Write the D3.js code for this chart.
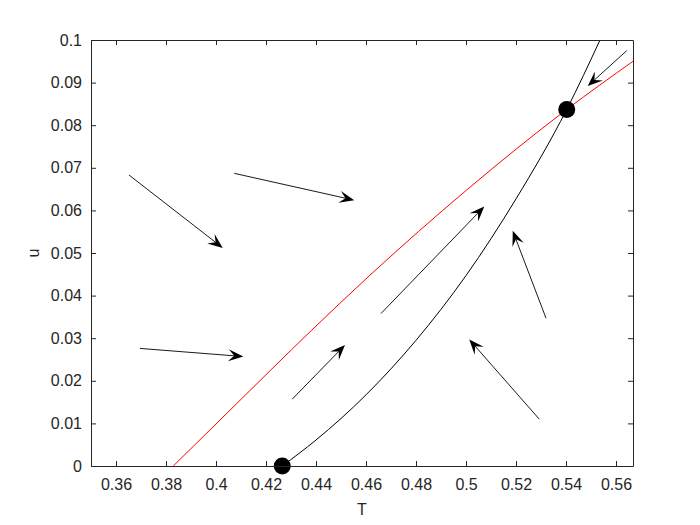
<!DOCTYPE html>
<html>
<head>
<meta charset="utf-8">
<script src="https://cdn.jsdelivr.net/npm/d3@7"></script>
<style>
  body { margin: 0; background: #fff; }
  svg text { font-family: "Liberation Sans", Arial, sans-serif; }
</style>
</head>
<body>
<div id="chart"></div>
<script>

// red curve (T, u)
const redT = [0.3829, 0.4056, 0.4383, 0.4616, 0.5003, 0.5403, 0.5668];
const redU = [0, 0.0131, 0.0319, 0.0448, 0.0648, 0.0837, 0.0950];

// black curve (T, u)
const blackT = [0.4265, 0.44, 0.46, 0.48, 0.50, 0.52, 0.5403, 0.5536];
const blackU = [0, 0.0061, 0.0167, 0.0295, 0.0447, 0.0627, 0.0837, 0.1];

// equilibrium points
const eqT = [0.4265, 0.5403];
const eqU = [0, 0.0837];

// arrows: start (T0,u0) -> tip (T1,u1)
const arrowT0 = [0.3652, 0.4073, 0.3696, 0.4305, 0.4660, 0.5293, 0.5320, 0.5643];
const arrowU0 = [0.0683, 0.0687, 0.0276, 0.0157, 0.0358, 0.0110, 0.0347, 0.0975];
const arrowT1 = [0.4027, 0.4553, 0.4109, 0.4516, 0.5073, 0.5013, 0.5187, 0.5487];
const arrowU1 = [0.0512, 0.0624, 0.0257, 0.0284, 0.0609, 0.0297, 0.0552, 0.0892];

const xTicks = [0.36, 0.38, 0.4, 0.42, 0.44, 0.46, 0.48, 0.5, 0.52, 0.54, 0.56];
const yTicks = [0, 0.01, 0.02, 0.03, 0.04, 0.05, 0.06, 0.07, 0.08, 0.09, 0.1];
const xLabel = 'T';
const yLabel = 'u';

let outerWidth = 700;
let outerHeight = 525;
let margin = {'top': 40, 'left': 91, 'right': 67, 'bottom': 59};
let width = outerWidth - margin.left - margin.right;
let height = outerHeight - margin.top - margin.bottom;
const axisColor = '#262626';

let svg = d3.select('#chart')
            .append('svg')
            .attr('width', outerWidth)
            .attr('height', outerHeight);

let g = svg.append('g')
           .attr('transform', `translate(${margin.left}, ${margin.top})`);

let x = d3.scaleLinear().domain([0.35, 0.5668]).range([0, width]);
let y = d3.scaleLinear().domain([0, 0.1]).range([height, 0]);

let line = d3.line()
             .x(d => x(d[0]))
             .y(d => y(d[1]))
             .curve(d3.curveMonotoneX);

// clip so curves stop at the box
g.append('clipPath').attr('id', 'clip')
  .append('rect').attr('width', width).attr('height', height);

let plot = g.append('g').attr('clip-path', 'url(#clip)');

plot.append('path')
    .datum(d3.zip(redT, redU))
    .attr('d', line)
    .attr('fill', 'none')
    .attr('stroke', '#ff0000')
    .attr('stroke-width', 1);

plot.append('path')
    .datum(d3.zip(blackT, blackU))
    .attr('d', line)
    .attr('fill', 'none')
    .attr('stroke', '#000')
    .attr('stroke-width', 1);

// arrows with swept-back heads
let headLen = 15, headHalf = 6, notch = 0.6;
d3.range(arrowT0.length).forEach(function(i){
    let x0 = x(arrowT0[i]), y0 = y(arrowU0[i]);
    let x1 = x(arrowT1[i]), y1 = y(arrowU1[i]);
    let len = Math.hypot(x1 - x0, y1 - y0);
    let dx = (x1 - x0) / len, dy = (y1 - y0) / len;
    let nx = -dy, ny = dx;
    let bx = x1 - headLen * dx, by = y1 - headLen * dy;
    let mx = x1 - notch * headLen * dx, my = y1 - notch * headLen * dy;

    g.append('line')
        .attr('x1', x0).attr('y1', y0)
        .attr('x2', mx).attr('y2', my)
        .attr('stroke', '#000')
        .attr('stroke-width', 0.9);

    g.append('path')
        .attr('d', `M${x1},${y1}L${bx + headHalf * nx},${by + headHalf * ny}L${mx},${my}L${bx - headHalf * nx},${by - headHalf * ny}Z`)
        .attr('fill', '#000');
});

// equilibrium markers
g.selectAll('circle.eq')
  .data(d3.zip(eqT, eqU))
  .enter().append('circle')
  .attr('class', 'eq')
  .attr('cx', d => x(d[0]))
  .attr('cy', d => y(d[1]))
  .attr('r', 8.5)
  .attr('fill', '#000');

// axes (box with inward ticks)
function styleAxis(sel){
    sel.selectAll('path, line').attr('stroke', axisColor).attr('stroke-width', 1);
    sel.selectAll('text').attr('fill', axisColor).style('font-size', '16px');
}

g.append('g')
  .attr('transform', `translate(0, ${height})`)
  .call(d3.axisBottom(x).tickValues(xTicks).tickFormat(d3.format('')).tickSizeInner(-5).tickSizeOuter(0).tickPadding(13))
  .call(styleAxis);

g.append('g')
  .call(d3.axisLeft(y).tickValues(yTicks).tickFormat(d3.format('')).tickSizeInner(-5).tickSizeOuter(0).tickPadding(9))
  .call(styleAxis);

g.append('g')
  .call(d3.axisTop(x).tickValues(xTicks).tickFormat('').tickSizeInner(-5).tickSizeOuter(0))
  .call(styleAxis);

g.append('g')
  .attr('transform', `translate(${width}, 0)`)
  .call(d3.axisRight(y).tickValues(yTicks).tickFormat('').tickSizeInner(-5).tickSizeOuter(0))
  .call(styleAxis);

// labels
g.append('text')
  .attr('x', width / 2)
  .attr('y', height + 49)
  .attr('text-anchor', 'middle')
  .attr('fill', axisColor)
  .style('font-size', '16px')
  .text(xLabel);

g.append('text')
  .attr('transform', `translate(${39 - margin.left}, ${height / 2}) rotate(-90)`)
  .attr('text-anchor', 'middle')
  .attr('fill', axisColor)
  .style('font-size', '16px')
  .text(yLabel);

</script>
</body>
</html>
